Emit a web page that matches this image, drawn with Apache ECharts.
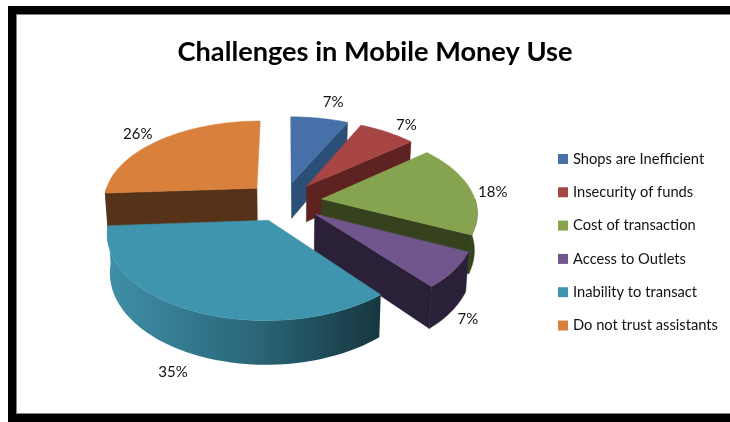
<!DOCTYPE html>
<html>
<head>
<meta charset="utf-8">
<style>html,body{margin:0;padding:0;background:#fff}#chart{width:730px;height:422px}</style>
<script src="https://cdn.jsdelivr.net/npm/echarts@6/dist/echarts.min.js"></script>
</head>
<body>
<div id="chart"></div>
<script>
// Survey shares, in percent, clockwise from twelve o'clock.
const categories = ['Shops are Inefficient', 'Insecurity of funds', 'Cost of transaction',
  'Access to Outlets', 'Inability to transact', 'Do not trust assistants'];
const shares = [7, 7, 18, 7, 35, 26];

// Slice palette: top face and the darker side wall.
const topColors = ['#4670a7', '#a64543', '#86a44f', '#71568d', '#3f94ae', '#d9813c'];
const wallColors = ['#2c4f78', '#5e2221', '#36411d', '#2a2138', '#2a6577', '#563318'];

// Back-to-front painting order of the slices.
const paintOrder = [5, 0, 1, 2, 3, 4];
// Small label shifts away from the radial anchor, in pixels.
const labelNudge = [[10, -8], [9, 0], [2, 4], [-5, -1], [-9, 2], [-9, 0]];

// Projection of the tilted, exploded pie.
const VIEW = { cx: 284, cy: 201.5, radius: 154, explode: 38, tilt: 0.521, persp: 0.1417, depth: 36.5, baseScale: 0.985 };
const total = shares.reduce((a, b) => a + b, 0);

function project(x, y, lower) {
  const s = 1 / (1 - VIEW.persp * y / VIEW.radius);
  const xs = lower ? s * VIEW.baseScale : s;
  return [VIEW.cx + x * xs, VIEW.cy + VIEW.tilt * y * s + (lower ? VIEW.depth * s : 0)];
}
// Ground-plane point of a slice: angle in degrees clockwise from north.
function ground(origin, angle, r) {
  const a = angle * Math.PI / 180;
  return [origin[0] + r * Math.sin(a), origin[1] - r * Math.cos(a)];
}
function arcPoints(origin, from, to, lower) {
  const pts = [];
  const n = Math.max(4, Math.ceil(Math.abs(to - from) / 2));
  for (let i = 0; i <= n; i++) {
    const g = ground(origin, from + (to - from) * i / n, VIEW.radius);
    pts.push(project(g[0], g[1], lower));
  }
  return pts;
}
function poly(points, fill, z) {
  return { type: 'polygon', z2: z, shape: { points }, style: { fill, stroke: fill, lineWidth: 0.5 } };
}

function sliceStart(index) {
  return shares.slice(0, index).reduce((a, b) => a + b, 0) / total * 360;
}

function renderSlice(index) {
  return function (params, api) {
    const value = api.value(0);
    const start = sliceStart(index);
    const end = start + value / total * 360;
    const mid = (start + end) / 2;
    const origin = ground([0, 0], mid, VIEW.explode);
    const o = project(origin[0], origin[1], false);
    const oLow = project(origin[0], origin[1], true);
    const children = [];

    // Radial cut faces.
    [start, end].forEach(function (edge, i) {
      const g = ground(origin, edge, VIEW.radius);
      const faceVisible = edge > 0 && edge < 180 ? i === 1 : i === 0;
      if (faceVisible) {
        children.push(poly([o, project(g[0], g[1], false), project(g[0], g[1], true), oLow], wallColors[index], 1));
      }
    });

    // Outer rim, only the part turned towards the viewer.
    const rimFrom = Math.max(start, 90);
    const rimTo = Math.min(end, 270);
    if (rimTo > rimFrom) {
      const upper = arcPoints(origin, rimFrom, rimTo, false);
      const lowerRim = arcPoints(origin, rimFrom, rimTo, true).reverse();
      const xs = upper.concat(lowerRim).map(p => p[0]);
      const x0 = Math.min.apply(null, xs), x1 = Math.max.apply(null, xs);
      const rim = poly(upper.concat(lowerRim), wallColors[index], 2);
      if (index === 4) {
        // The large front slice catches the light on its left side.
        rim.style.fill = new echarts.graphic.LinearGradient(x0, 0, x1, 0, [
          { offset: 0, color: '#3f90a9' },
          { offset: 0.55, color: '#2a6577' },
          { offset: 1, color: '#16363f' }
        ], true);
        rim.style.stroke = null;
      }
      children.push(rim);
    }

    // Top face.
    children.push(poly([o].concat(arcPoints(origin, start, end, false)), topColors[index], 3));

    // Percentage label beyond the rim.
    const g = ground(origin, mid, VIEW.radius * 1.14);
    const lp = project(g[0], g[1], mid > 90 && mid < 270);
    children.push({
      type: 'text', z2: 4,
      style: {
        x: lp[0] + labelNudge[index][0], y: lp[1] + labelNudge[index][1],
        text: value + '%', fill: '#111', align: 'center', verticalAlign: 'middle',
        font: '15px Lato, "Open Sans", sans-serif'
      }
    });
    return { type: 'group', children };
  };
}

const series = paintOrder.map(function (i, order) {
  return {
    type: 'custom',
    name: categories[i],
    coordinateSystem: 'none',
    z: order + 2,
    silent: true,
    animation: false,
    itemStyle: { color: topColors[i] },
    data: [[shares[i]]],
    renderItem: renderSlice(i)
  };
});

const chart = echarts.init(document.getElementById('chart'), null, { renderer: 'canvas' });
chart.setOption({
  backgroundColor: '#fff',
  animation: false,
  title: {
    text: 'Challenges in Mobile Money Use',
    left: 370, top: 34, textAlign: 'center',
    textStyle: { fontFamily: 'Lato, "Open Sans", sans-serif', fontWeight: 'bold', fontSize: 27.2, color: '#000' }
  },
  legend: {
    orient: 'vertical',
    left: 558, top: 151,
    padding: 0,
    data: categories,
    icon: 'rect',
    itemWidth: 10, itemHeight: 10, itemGap: 17.3,
    selectedMode: false,
    textStyle: { fontFamily: 'Lato, "Open Sans", sans-serif', fontSize: 14.7, color: '#111', lineHeight: 16 }
  },
  graphic: [
    // Thick black frame on three sides with a thin grey inner edge.
    { type: 'rect', z: 0, silent: true, shape: { x: 8, y: 6, width: 722, height: 8 }, style: { fill: '#000' } },
    { type: 'rect', z: 0, silent: true, shape: { x: 8, y: 6, width: 8, height: 416 }, style: { fill: '#000' } },
    { type: 'rect', z: 0, silent: true, shape: { x: 8, y: 414, width: 722, height: 8 }, style: { fill: '#000' } },
    { type: 'rect', z: 0, silent: true, shape: { x: 16, y: 14, width: 714, height: 1 }, style: { fill: '#808080' } },
    { type: 'rect', z: 0, silent: true, shape: { x: 16, y: 14, width: 1, height: 400 }, style: { fill: '#808080' } },
    { type: 'rect', z: 0, silent: true, shape: { x: 16, y: 413, width: 714, height: 1 }, style: { fill: '#808080' } }
  ],
  series
});
</script>
</body>
</html>
